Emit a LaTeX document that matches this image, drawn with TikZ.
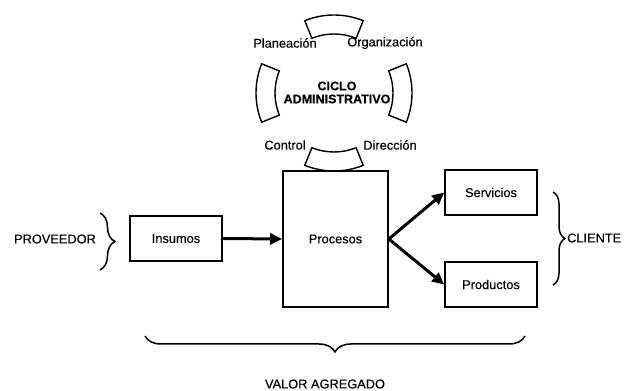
\documentclass[tikz,border=0pt]{standalone}
\usepackage{fontspec}
\setmainfont{Liberation Sans}[FakeBold=0.3]
\usetikzlibrary{arrows.meta,calc,decorations.pathreplacing}
\begin{document}
\begin{tikzpicture}[x=1pt,y=1pt,
  font=\fontsize{12.8}{14}\selectfont,
  box/.style={draw,line width=1.6pt,minimum width=92pt,minimum height=45pt,inner sep=0pt},
  flow/.style={line width=3pt,-{Triangle[length=12pt,width=11pt]}},
  segm/.style={draw,line width=1.4pt,line join=miter},
  brc/.style={draw,line width=1.5pt,decorate},
  lbl/.style={inner sep=0pt},
  head/.style={inner sep=0pt,font=\fontsize{12.5}{14}\selectfont\bfseries}]
\useasboundingbox (0,0) rectangle (627,391);

% administrative cycle: four ring segments around a common centre
\coordinate (cc) at (334,298);
\foreach \a in {90,180,270,0}{
  \draw[segm] ($(cc)+({\a-22}:78pt)$) arc[start angle={\a-22}, end angle={\a+22}, radius=78pt]
    -- ($(cc)+({\a+22}:59pt)$) arc[start angle={\a+22}, end angle={\a-22}, radius=59pt] -- cycle;
}
\node[head] (ciclo) at (337,305) {CICLO};
\node[head] (admin) at (337,292) {ADMINISTRATIVO};
\node[lbl] (plan) at (285,348) {Planeación};
\node[lbl] (org)  at (385,348) {Organización};
\node[lbl] (ctrl) at (285,246) {Control};
\node[lbl] (dir)  at (390,246) {Dirección};

% process chain
\node[box] (ins) at (176,152.5) {Insumos};
\node[box,fill=white,minimum width=105pt,minimum height=136pt] (proc) at (335.5,152) {Procesos};
\node[box] (serv) at (491,198.5) {Servicios};
\node[box] (prod) at (491,106.5) {Productos};

\draw[flow] (ins.east) -- (proc.west);
\draw[flow] (proc.east) -- (serv.west);
\draw[flow] (proc.east) -- (prod.west);

% supplier, client and added value
\node[lbl] (prov) at (55,152) {PROVEEDOR};
\draw[brc,decoration={brace,amplitude=15pt}] (100,178) -- (100,121);

\node[lbl,anchor=west] (cli) at (567,153) {CLIENTE};
\draw[brc,decoration={brace,amplitude=12pt}] (553,199) -- (553,106);

\draw[brc,decoration={brace,amplitude=16pt}] (525,55) -- (145,55);
\node[lbl] (valor) at (325,7) {VALOR AGREGADO};
\end{tikzpicture}
\end{document}
